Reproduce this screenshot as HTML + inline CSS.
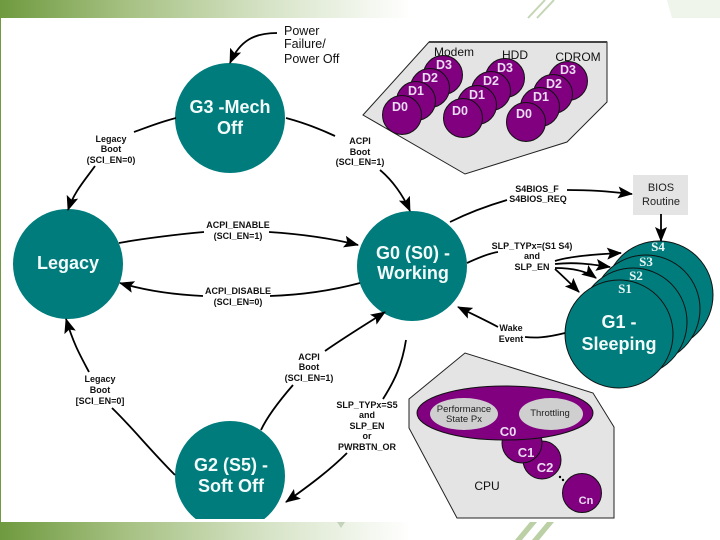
<!DOCTYPE html>
<html><head><meta charset="utf-8">
<style>
html,body{margin:0;padding:0;background:#fff}
svg{display:block}
text{font-family:"Liberation Sans",sans-serif;text-anchor:middle}
.w{fill:#f2fbfa;font-weight:bold;font-size:18px}
.l{fill:#111;font-size:9px;font-weight:bold}
.d{fill:#eadcf0;font-weight:bold;font-size:12.5px}
.s{fill:#eaf6f4;font-weight:bold;font-size:13px;font-family:"Liberation Serif",serif}
.h{fill:#111;font-size:12px}
.p{fill:#111;font-size:12.5px;text-anchor:start}
.line{fill:none;stroke:#000;stroke-width:1.8}
</style></head><body>
<svg width="720" height="540" viewBox="0 0 720 540" xmlns="http://www.w3.org/2000/svg">
<defs>
<linearGradient id="g" x1="0" x2="1" y1="0" y2="0">
<stop offset="0" stop-color="#6f9a3f"/><stop offset=".3" stop-color="#a5c081"/><stop offset=".65" stop-color="#d6e3c6"/><stop offset="1" stop-color="#ffffff"/>
</linearGradient>
<marker id="a" markerWidth="17" markerHeight="14" refX="14" refY="6" orient="auto" markerUnits="userSpaceOnUse"><path d="M0 0L15 6L0 12L3 6Z" fill="#000"/></marker>
<clipPath id="c"><rect x="0" y="0" width="720" height="519"/></clipPath>
</defs>
<rect width="720" height="540" fill="#fff"/>
<rect x="0" y="0" width="410" height="18" fill="url(#g)"/>
<rect x="0" y="522" width="410" height="18" fill="url(#g)"/>
<rect x="0" y="0" width="1" height="540" fill="#6f9a3f"/>
<path d="M528 18L545 0M537 18L554 0" stroke="#c5d5b5" stroke-width="2" fill="none"/>
<path d="M667 0L672 18H720V0Z" fill="#f0f5ec"/>
<path d="M515 540L530 522H537L522 540ZM532 540L547 522H554L539 540Z" fill="#bcd0a5"/>
<path d="M337 522H345L341 528Z" fill="#c5d2bb"/>

<!-- Device panel -->
<polygon points="363,115 429,42 607,42 607,102 567,142 465,174" fill="#e4e4e4" stroke="#222" stroke-width="1"/>
<path d="M429 42H607" stroke="#444" stroke-width="2"/>
<g fill="#800080" stroke="#111" stroke-width="1">
<circle cx="443" cy="75" r="19.5"/><circle cx="430" cy="88" r="19.5"/><circle cx="416" cy="101" r="19.5"/><circle cx="402" cy="115" r="19.5"/>
<circle cx="505" cy="78" r="19.5"/><circle cx="491" cy="91" r="19.5"/><circle cx="477" cy="105" r="19.5"/><circle cx="463" cy="118" r="19.5"/>
<circle cx="568" cy="81" r="19.5"/><circle cx="553" cy="94" r="19.5"/><circle cx="540" cy="107" r="19.5"/><circle cx="526" cy="122" r="19.5"/>
</g>
<text class="h" x="454" y="56">Modem</text><text class="h" x="515" y="59">HDD</text><text class="h" x="578" y="61">CDROM</text>
<text class="d" x="444" y="69">D3</text><text class="d" x="430" y="82">D2</text><text class="d" x="416" y="95">D1</text><text class="d" x="400" y="111">D0</text>
<text class="d" x="505" y="72">D3</text><text class="d" x="491" y="85">D2</text><text class="d" x="477" y="99">D1</text><text class="d" x="460" y="115">D0</text>
<text class="d" x="568" y="74">D3</text><text class="d" x="554" y="88">D2</text><text class="d" x="541" y="101">D1</text><text class="d" x="524" y="118">D0</text>

<!-- CPU panel -->
<polygon points="409,399 465,353 593,393 614,427 614,518 457,518 409,428" fill="#e4e4e4" stroke="#222" stroke-width="1"/>
<circle cx="582" cy="493" r="19.5" fill="#800080" stroke="#111"/>
<circle cx="542" cy="460" r="19" fill="#800080" stroke="#111"/>
<circle cx="522" cy="443" r="20" fill="#800080" stroke="#111"/>
<ellipse cx="505" cy="413" rx="88" ry="27" fill="#800080" stroke="#111"/>
<ellipse cx="464" cy="414" rx="34" ry="16" fill="#cfcfcf"/>
<ellipse cx="551" cy="414" rx="32" ry="16" fill="#cfcfcf"/>
<circle cx="560" cy="477" r="1.2" fill="#000"/><circle cx="563" cy="480" r="1.2" fill="#000"/>
<text x="464" y="412" style="font-size:9.5px" fill="#222">Performance</text>
<text x="464" y="422" style="font-size:9.5px" fill="#222">State Px</text>
<text x="550" y="416" style="font-size:9.5px" fill="#222">Throttling</text>
<text class="d" x="508" y="436" style="font-size:13px">C0</text><text class="d" x="526" y="457" style="font-size:13px">C1</text><text class="d" x="545" y="472" style="font-size:13px">C2</text><text class="d" x="586" y="504" style="font-size:11px">Cn</text>
<text class="h" x="487" y="490">CPU</text>

<!-- G1 stack -->
<g fill="#007c7c" stroke="#111" stroke-width="1">
<circle cx="659" cy="295" r="54"/><circle cx="646" cy="309" r="54"/><circle cx="633" cy="322" r="54"/><circle cx="619" cy="334" r="54"/>
</g>
<text class="s" x="658" y="251">S4</text><text class="s" x="646" y="266">S3</text><text class="s" x="636" y="280">S2</text><text class="s" x="625" y="293">S1</text>
<text class="w" x="619" y="328">G1 -</text><text class="w" x="619" y="350">Sleeping</text>

<!-- Main circles -->
<g fill="#007c7c">
<circle cx="230" cy="118" r="55"/><circle cx="68" cy="264" r="55"/><circle cx="412" cy="266" r="55"/>
<circle cx="230" cy="476" r="55" clip-path="url(#c)"/>
</g>
<text class="w" x="230" y="113">G3 -Mech</text><text class="w" x="230" y="134">Off</text>
<text class="w" x="68" y="269">Legacy</text>
<text class="w" x="413" y="259">G0 (S0) -</text><text class="w" x="413" y="279">Working</text>
<text class="w" x="231" y="471">G2 (S5) -</text><text class="w" x="231" y="492">Soft Off</text>

<!-- BIOS -->
<rect x="633" y="175" width="55" height="40" fill="#e4e4e4"/>
<text x="661" y="191" style="font-size:11px" fill="#222">BIOS</text><text x="661" y="205" style="font-size:11px" fill="#222">Routine</text>

<!-- Connectors -->
<g class="line">
<path d="M277 33C255 33 240 40 230 63" marker-end="url(#a)"/>
<path d="M176 118C160 122 148 127 134 132"/>
<path d="M95 166C85 180 74 192 68 210" marker-end="url(#a)"/>
<path d="M286 118C305 123 320 129 335 136"/>
<path d="M380 170C392 180 403 195 410 211" marker-end="url(#a)"/>
<path d="M119 243C140 239 180 234 204 232"/>
<path d="M269 232C300 234 330 238 358 245" marker-end="url(#a)"/>
<path d="M360 283C330 291 300 295 270 296"/>
<path d="M203 296C180 295 150 292 120 283" marker-end="url(#a)"/>
<path d="M450 222C470 212 490 205 507 200"/>
<path d="M567 190C590 190 605 191 632 194" marker-end="url(#a)"/>
<path d="M661 214V241" marker-end="url(#a)"/>
<path d="M467 263C480 257 490 253 498 252"/>
<path d="M555 261C570 256 600 254 621 253" marker-end="url(#a)"/>
<path d="M555 264C575 262 590 264 610 267" marker-end="url(#a)"/>
<path d="M555 268C570 268 585 270 596 278" marker-end="url(#a)"/>
<path d="M555 269C565 278 572 285 579 292" marker-end="url(#a)"/>
<path d="M565 333C545 338 535 338 525 337"/>
<path d="M498 327C485 320 472 314 458 307" marker-end="url(#a)"/>
<path d="M293 385C280 400 268 415 261 430"/>
<path d="M325 351C345 337 365 325 385 312" marker-end="url(#a)"/>
<path d="M406 340C402 365 395 380 383 399"/>
<path d="M347 453C330 470 310 485 286 502" marker-end="url(#a)"/>
<path d="M175 475C150 450 130 425 112 408"/>
<path d="M89 372C80 355 74 345 66 319" marker-end="url(#a)"/>
</g>

<!-- Labels -->
<text class="p" x="284" y="35">Power</text>
<text class="p" x="284" y="48">Failure/</text>
<text class="p" x="284" y="63">Power Off</text>
<text class="l" x="111" y="142">Legacy</text><text class="l" x="111" y="152">Boot</text><text class="l" x="111" y="163">(SCI_EN=0)</text>
<text class="l" x="360" y="144">ACPI</text><text class="l" x="360" y="155">Boot</text><text class="l" x="360" y="165">(SCI_EN=1)</text>
<text class="l" x="238" y="228">ACPI_ENABLE</text><text class="l" x="238" y="239">(SCI_EN=1)</text>
<text class="l" x="238" y="294">ACPI_DISABLE</text><text class="l" x="238" y="305">(SCI_EN=0)</text>
<text class="l" x="537" y="192">S4BIOS_F</text><text class="l" x="538" y="202">S4BIOS_REQ</text>
<text class="l" x="532" y="249">SLP_TYPx=(S1 S4)</text><text class="l" x="532" y="259">and</text><text class="l" x="532" y="270">SLP_EN</text>
<text class="l" x="511" y="331">Wake</text><text class="l" x="511" y="342">Event</text>
<text class="l" x="309" y="360">ACPI</text><text class="l" x="309" y="370">Boot</text><text class="l" x="309" y="381">(SCI_EN=1)</text>
<text class="l" x="100" y="382">Legacy</text><text class="l" x="100" y="393">Boot</text><text class="l" x="100" y="404">[SCI_EN=0]</text>
<text class="l" x="367" y="408">SLP_TYPx=S5</text><text class="l" x="367" y="418">and</text><text class="l" x="367" y="429">SLP_EN</text><text class="l" x="367" y="439">or</text><text class="l" x="367" y="450">PWRBTN_OR</text>
</svg>
</body></html>
